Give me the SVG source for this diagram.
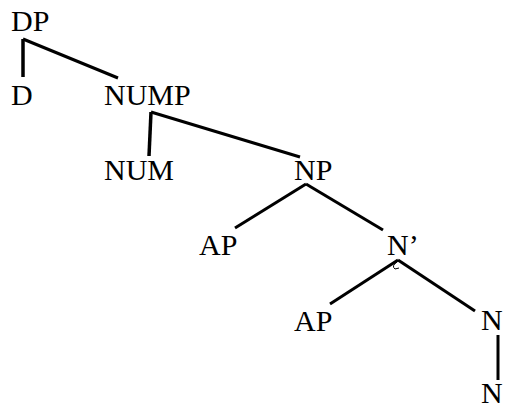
<svg xmlns="http://www.w3.org/2000/svg" width="507" height="409" viewBox="0 0 507 409">
<style>
text{font-family:"Liberation Serif","Times New Roman",serif;font-size:30px;fill:#000}
.e{stroke:#000;stroke-width:3;fill:none;stroke-linecap:butt}
</style>
<rect width="507" height="409" fill="#fff"/>
<g id="edges">
<line class="e" x1="23" y1="39" x2="23" y2="77" style="stroke-width:3.5"/>
<line class="e" x1="23" y1="39" x2="118" y2="78"/>
<line class="e" x1="151" y1="112" x2="149" y2="156" style="stroke-width:3.5"/>
<line class="e" x1="151" y1="112" x2="300" y2="157"/>
<line class="e" x1="306" y1="184" x2="235" y2="228"/>
<line class="e" x1="306" y1="184" x2="383" y2="230"/>
<line class="e" x1="398" y1="260" x2="330" y2="304"/>
<line class="e" x1="398" y1="260" x2="475" y2="311"/>
<line class="e" x1="498" y1="335" x2="498" y2="380"/>
<path d="M397,262 Q391,266 395,269 L399,268" stroke="#000" stroke-width="1" fill="none"/>
</g>
<g id="DP"><text x="11" y="31">DP</text></g>
<g id="D"><text x="11" y="105">D</text></g>
<g id="NUMP"><text x="104" y="105">NUMP</text></g>
<g id="NUM"><text x="104" y="180">NUM</text></g>
<g id="NP"><text x="294" y="180">NP</text></g>
<g id="AP1"><text x="199" y="255">AP</text></g>
<g id="Nbar"><text x="387" y="255">N’</text></g>
<g id="AP2"><text x="294" y="331">AP</text></g>
<g id="N1"><text x="481" y="330">N</text></g>
<g id="N2"><text x="481" y="403">N</text></g>
</svg>
